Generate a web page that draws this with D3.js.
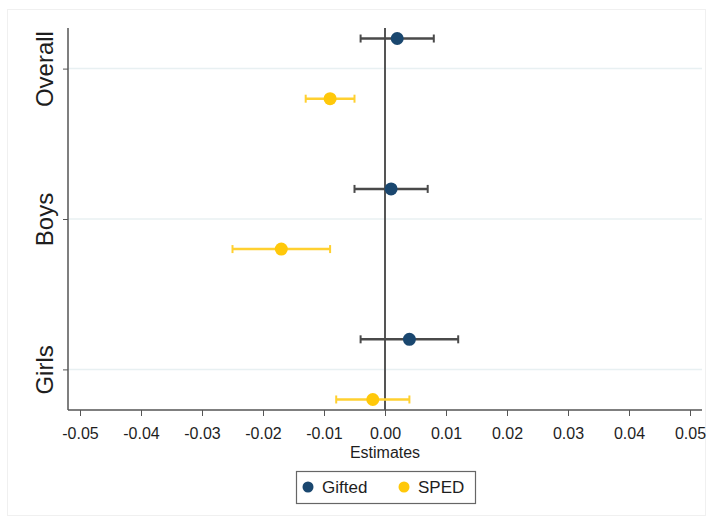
<!DOCTYPE html>
<html>
  <head>
    <meta charset="utf-8">
    <title>Coefficient plot</title>
    <script src="https://d3js.org/d3.v7.min.js"></script>
    <style>
      body { margin: 0; background: #fff; }
      text { font-family: "Liberation Sans", Arial, sans-serif; fill: #1e1e1e; }
    </style>
  </head>
  <body>
    <script>
      var width = 709;
      var height = 522;

      // data
      var groups = ["Overall", "Boys", "Girls"];
      var seriesNames = ["Gifted", "SPED"];
      var giftedEst = [0.002, 0.001, 0.004];
      var giftedLow = [-0.004, -0.005, -0.004];
      var giftedHigh = [0.008, 0.007, 0.012];
      var spedEst = [-0.009, -0.017, -0.002];
      var spedLow = [-0.013, -0.025, -0.008];
      var spedHigh = [-0.005, -0.009, 0.004];
      var xTicks = [-0.05, -0.04, -0.03, -0.02, -0.01, 0, 0.01, 0.02, 0.03, 0.04, 0.05];

      var colors = {Gifted: "#1a476f", SPED: "#ffc80a"};
      var barColors = {Gifted: "#4a4a4a", SPED: "#ffd030"};

      var rows = [];
      groups.forEach(function(g, i) {
        rows.push({group: g, series: "Gifted", est: giftedEst[i], lo: giftedLow[i], hi: giftedHigh[i], off: -1});
        rows.push({group: g, series: "SPED", est: spedEst[i], lo: spedLow[i], hi: spedHigh[i], off: 1});
      });

      var plot = {left: 68, right: 702, top: 28, bottom: 410};

      var xScale = d3.scaleLinear()
          .domain([-0.05, 0.05])
          .range([80, 690]);

      var yScale = d3.scalePoint()
          .domain(groups)
          .range([plot.top, plot.bottom])
          .padding(0.27);

      var offset = yScale.step() * 0.2;

      var svg = d3.select("body")
        .append("svg")
          .attr("width", width)
          .attr("height", height);

      // faint outer frame
      svg.append("rect")
          .attr("x", 7.5).attr("y", 9.5)
          .attr("width", 698).attr("height", 506)
          .attr("fill", "#fff")
          .attr("stroke", "#f0f0f0");

      // grid lines
      svg.append("g")
        .selectAll("line")
        .data(groups)
        .enter()
        .append("line")
          .attr("x1", plot.left)
          .attr("x2", plot.right)
          .attr("y1", function(d) { return yScale(d); })
          .attr("y2", function(d) { return yScale(d); })
          .attr("stroke", "#e8f0f2")
          .attr("stroke-width", 1.5);

      // x axis
      var fmt = d3.format(".2f");
      var xAxis = d3.axisBottom(xScale)
          .tickValues(xTicks)
          .tickFormat(function(d) { return fmt(d).replace("\u2212", "-"); })
          .tickSize(6)
          .tickSizeOuter(0);

      var gx = svg.append("g")
          .attr("transform", "translate(0," + plot.bottom + ")")
          .call(xAxis);
      gx.select(".domain").remove();
      gx.append("line")
          .attr("x1", plot.left).attr("x2", plot.right)
          .attr("stroke", "#555").attr("stroke-width", 1.5);
      gx.selectAll(".tick line").attr("stroke", "#555");
      gx.selectAll(".tick text")
          .attr("y", 18)
          .style("font-size", "16px")
          .attr("fill", "#1e1e1e");

      svg.append("text")
          .attr("x", xScale(0))
          .attr("y", plot.bottom + 48)
          .attr("text-anchor", "middle")
          .style("font-size", "16px")
          .text("Estimates");

      // y axis
      var yAxis = d3.axisLeft(yScale)
          .tickSize(5)
          .tickSizeOuter(0);
      var gy = svg.append("g")
          .attr("transform", "translate(" + plot.left + ",0)")
          .call(yAxis);
      gy.select(".domain").remove();
      gy.append("line")
          .attr("y1", plot.top).attr("y2", plot.bottom)
          .attr("stroke", "#555").attr("stroke-width", 1.5);
      gy.selectAll(".tick line").attr("stroke", "#555");
      gy.selectAll(".tick text")
          .attr("x", 0).attr("dy", 0)
          .attr("transform", "translate(-15,0) rotate(-90)")
          .attr("text-anchor", "middle")
          .style("font-size", "24px")
          .attr("fill", "#1e1e1e");

      // zero line
      svg.append("line")
          .attr("x1", xScale(0)).attr("x2", xScale(0))
          .attr("y1", plot.top).attr("y2", plot.bottom)
          .attr("stroke", "#555")
          .attr("stroke-width", 2);

      // error bars
      var bars = svg.append("g")
        .selectAll("g")
        .data(rows)
        .enter()
        .append("g")
          .attr("stroke", function(d) { return barColors[d.series]; })
          .attr("stroke-width", 2.5);

      bars.append("line")
          .attr("x1", function(d) { return xScale(d.lo); })
          .attr("x2", function(d) { return xScale(d.hi); })
          .attr("y1", function(d) { return yScale(d.group) + d.off * offset; })
          .attr("y2", function(d) { return yScale(d.group) + d.off * offset; });

      ["lo", "hi"].forEach(function(k) {
        bars.append("line")
            .attr("x1", function(d) { return xScale(d[k]); })
            .attr("x2", function(d) { return xScale(d[k]); })
            .attr("y1", function(d) { return yScale(d.group) + d.off * offset - 4; })
            .attr("y2", function(d) { return yScale(d.group) + d.off * offset + 4; })
            .attr("stroke-width", 2);
      });

      svg.append("g")
        .selectAll("circle")
        .data(rows)
        .enter()
        .append("circle")
          .attr("cx", function(d) { return xScale(d.est); })
          .attr("cy", function(d) { return yScale(d.group) + d.off * offset; })
          .attr("r", 6.5)
          .attr("fill", function(d) { return colors[d.series]; });

      // legend
      var legend = svg.append("g")
          .attr("transform", "translate(296,471)");
      legend.append("rect")
          .attr("x", 0.5).attr("y", 0.5)
          .attr("width", 179).attr("height", 32)
          .attr("fill", "#fff")
          .attr("stroke", "#666")
          .attr("stroke-width", 1.2);
      var items = legend.selectAll("g.item")
        .data(seriesNames)
        .enter()
        .append("g")
          .attr("class", "item")
          .attr("transform", function(d, i) { return "translate(" + (12 + i * 96) + ",16)"; });
      items.append("circle")
          .attr("r", 5.5)
          .attr("fill", function(d) { return colors[d]; });
      items.append("text")
          .attr("x", 14)
          .attr("dy", "0.36em")
          .style("font-size", "17px")
          .text(function(d) { return d; });
    </script>
  </body>
</html>
